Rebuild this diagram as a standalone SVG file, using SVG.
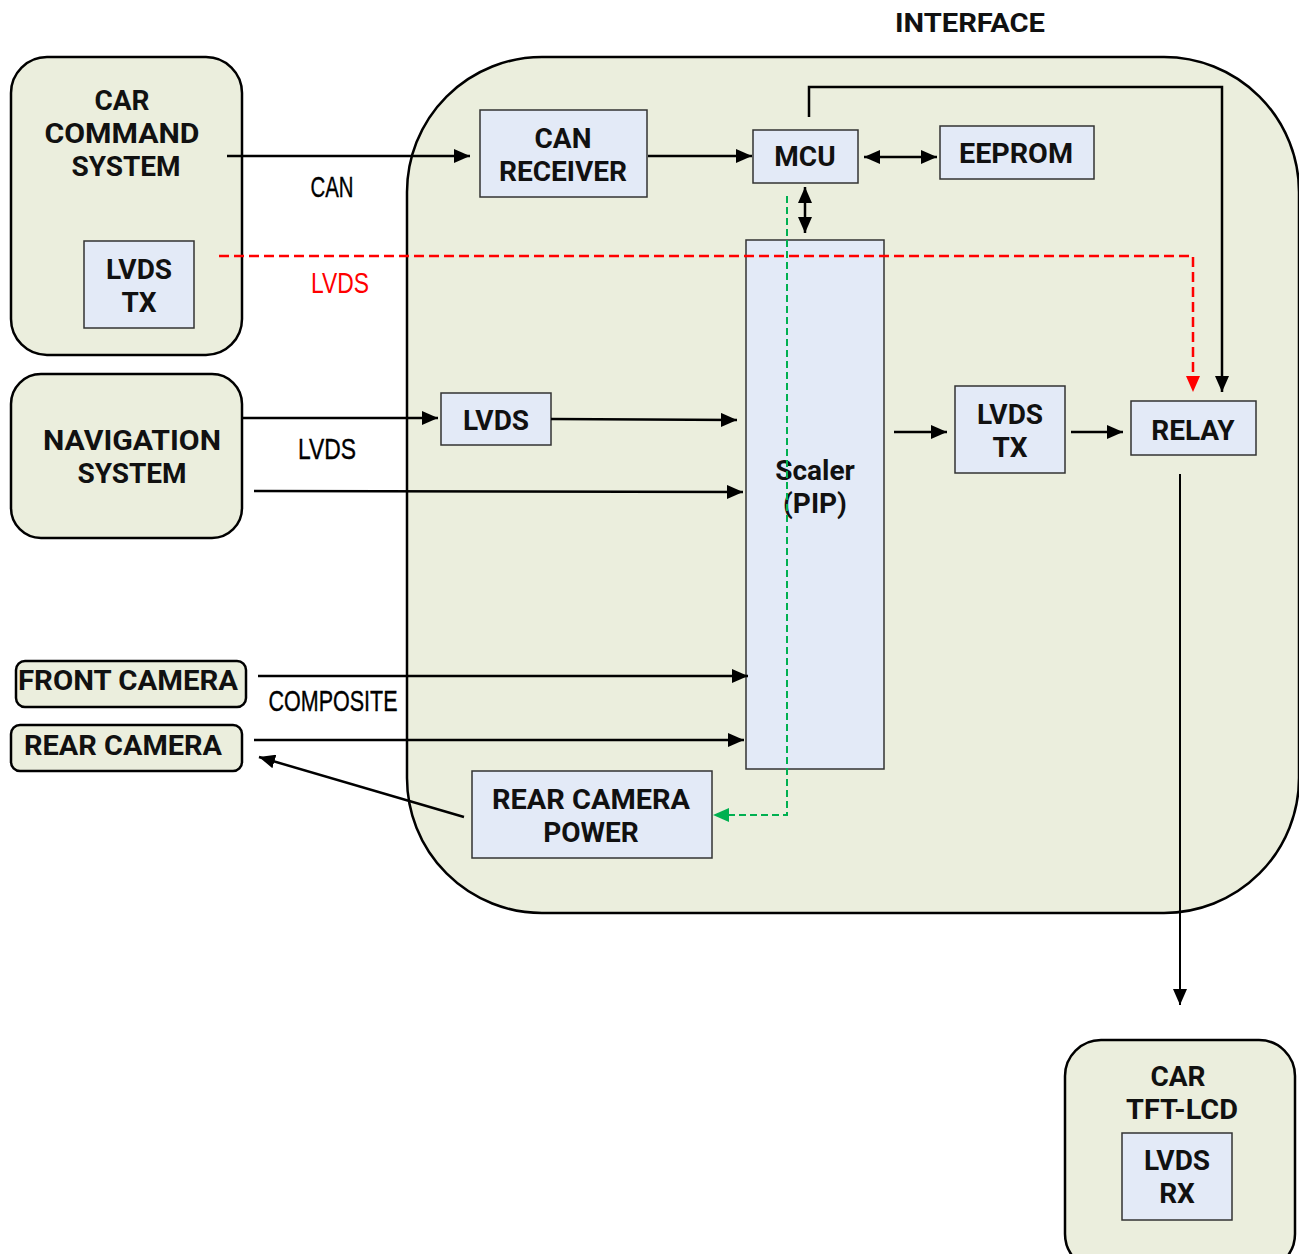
<svg xmlns="http://www.w3.org/2000/svg" width="1299" height="1254" viewBox="0 0 1299 1254">
<style>
.grp{fill:#EBEEDD;stroke:#000;stroke-width:2.5}
.box{fill:#E3EAF7;stroke:#333;stroke-width:1.5}
.t{font-family:Roboto,"Liberation Sans",sans-serif;font-weight:bold;font-size:28px;fill:#111;text-anchor:middle}
.lbl{font-family:"Liberation Sans",sans-serif;font-size:30px;fill:#000;text-anchor:middle;stroke:#000;stroke-width:0.4}
.ln{fill:none;stroke:#000;stroke-width:2.5}
</style>
<defs>
<marker id="a" viewBox="0 0 16 14" refX="16" refY="7" markerWidth="16" markerHeight="14" markerUnits="userSpaceOnUse" orient="auto-start-reverse"><path d="M0,0 L16,7 L0,14 z" fill="#000"/></marker>
<marker id="ar" viewBox="0 0 16 14" refX="16" refY="7" markerWidth="16" markerHeight="14" markerUnits="userSpaceOnUse" orient="auto"><path d="M0,0 L16,7 L0,14 z" fill="#FF0000"/></marker>
<marker id="ag" viewBox="0 0 16 14" refX="16" refY="7" markerWidth="16" markerHeight="14" markerUnits="userSpaceOnUse" orient="auto"><path d="M0,0 L16,7 L0,14 z" fill="#00B050"/></marker>
</defs>
<rect width="1299" height="1254" fill="#fff"/>
<text x="970" y="32" class="t" style="font-size:26px" textLength="150" lengthAdjust="spacingAndGlyphs">INTERFACE</text>
<g id="interface"><rect x="407" y="57" width="892" height="856" rx="135" ry="135" class="grp"/></g>
<g id="car-command"><rect x="11" y="57" width="231" height="298" rx="36" class="grp"/>
<text x="122" y="110" class="t">CAR</text><text x="122" y="143" class="t" textLength="155" lengthAdjust="spacingAndGlyphs">COMMAND</text><text x="126" y="176" class="t">SYSTEM</text></g>
<g id="lvds-tx-left"><rect x="84" y="241" width="110" height="87" class="box"/>
<text x="139" y="279" class="t">LVDS</text><text x="139" y="312" class="t">TX</text></g>
<g id="navigation"><rect x="11" y="374" width="231" height="164" rx="30" class="grp"/>
<text x="132" y="450" class="t" textLength="178" lengthAdjust="spacingAndGlyphs">NAVIGATION</text><text x="132" y="483" class="t">SYSTEM</text></g>
<g id="front-camera"><rect x="16" y="661" width="230" height="46" rx="9" class="grp"/>
<text x="128" y="690" class="t" textLength="220" lengthAdjust="spacingAndGlyphs">FRONT CAMERA</text></g>
<g id="rear-camera"><rect x="11" y="725" width="231" height="46" rx="9" class="grp"/>
<text x="123" y="755" class="t" textLength="198" lengthAdjust="spacingAndGlyphs">REAR CAMERA</text></g>
<g id="can-receiver"><rect x="480" y="110" width="167" height="87" class="box"/>
<text x="563" y="148" class="t">CAN</text><text x="563" y="181" class="t" textLength="128" lengthAdjust="spacingAndGlyphs">RECEIVER</text></g>
<g id="mcu"><rect x="753" y="130" width="105" height="53" class="box"/>
<text x="805" y="166" class="t">MCU</text></g>
<g id="eeprom"><rect x="940" y="126" width="154" height="53" class="box"/>
<text x="1016" y="163" class="t" textLength="114" lengthAdjust="spacingAndGlyphs">EEPROM</text></g>
<g id="scaler"><rect x="746" y="240" width="138" height="529" class="box"/>
<text x="815" y="480" class="t">Scaler</text><text x="815" y="513" class="t">(PIP)</text></g>
<g id="lvds-in"><rect x="441" y="393" width="110" height="52" class="box"/>
<text x="496" y="430" class="t">LVDS</text></g>
<g id="lvds-tx"><rect x="955" y="386" width="110" height="87" class="box"/>
<text x="1010" y="424" class="t">LVDS</text><text x="1010" y="457" class="t">TX</text></g>
<g id="relay"><rect x="1131" y="401" width="125" height="54" class="box"/>
<text x="1193" y="440" class="t">RELAY</text></g>
<g id="rear-camera-power"><rect x="472" y="771" width="240" height="87" class="box"/>
<text x="591" y="809" class="t" textLength="198" lengthAdjust="spacingAndGlyphs">REAR CAMERA</text><text x="591" y="842" class="t">POWER</text></g>
<g id="car-tft-lcd"><rect x="1065" y="1040" width="230" height="230" rx="36" class="grp"/>
<text x="1178" y="1086" class="t">CAR</text><text x="1182" y="1119" class="t" textLength="112" lengthAdjust="spacingAndGlyphs">TFT-LCD</text></g>
<g id="lvds-rx"><rect x="1122" y="1133" width="110" height="87" class="box"/>
<text x="1177" y="1170" class="t">LVDS</text><text x="1177" y="1203" class="t">RX</text></g>
<g id="connectors">
<path d="M227,156 H470" class="ln" marker-end="url(#a)"/>
<path d="M648,156 H752" class="ln" marker-end="url(#a)"/>
<path d="M864,157 H937" class="ln" marker-start="url(#a)" marker-end="url(#a)"/>
<path d="M805,187 V233" class="ln" marker-start="url(#a)" marker-end="url(#a)"/>
<path d="M809,117 V87 H1222 V392" class="ln" marker-end="url(#a)"/>
<path d="M219,256 H1193 V392" fill="none" stroke="#FF0000" stroke-width="2.5" stroke-dasharray="10,5" marker-end="url(#ar)"/>
<path d="M787,196 V815 H713" fill="none" stroke="#00B050" stroke-width="2" stroke-dasharray="7,4" marker-end="url(#ag)"/>
<path d="M243,418 H438" class="ln" marker-end="url(#a)"/>
<path d="M551,419 L737,420" class="ln" marker-end="url(#a)"/>
<path d="M254,491 L743,492" class="ln" marker-end="url(#a)"/>
<path d="M258,676 H748" class="ln" marker-end="url(#a)"/>
<path d="M254,740 H744" class="ln" marker-end="url(#a)"/>
<path d="M464,817 L259,757" class="ln" marker-end="url(#a)"/>
<path d="M894,432 H947" class="ln" marker-end="url(#a)"/>
<path d="M1071,432 H1123" class="ln" marker-end="url(#a)"/>
<path d="M1180,474 V1005" fill="none" stroke="#000" stroke-width="2" marker-end="url(#a)"/>
<text x="332" y="197" class="lbl" textLength="43" lengthAdjust="spacingAndGlyphs">CAN</text>
<text x="340" y="293" class="lbl" style="fill:#FF0000;stroke:#FF0000;stroke-width:0" textLength="58" lengthAdjust="spacingAndGlyphs">LVDS</text>
<text x="327" y="459" class="lbl" textLength="58" lengthAdjust="spacingAndGlyphs">LVDS</text>
<text x="333" y="711" class="lbl" textLength="129" lengthAdjust="spacingAndGlyphs">COMPOSITE</text>
</g>
</svg>
